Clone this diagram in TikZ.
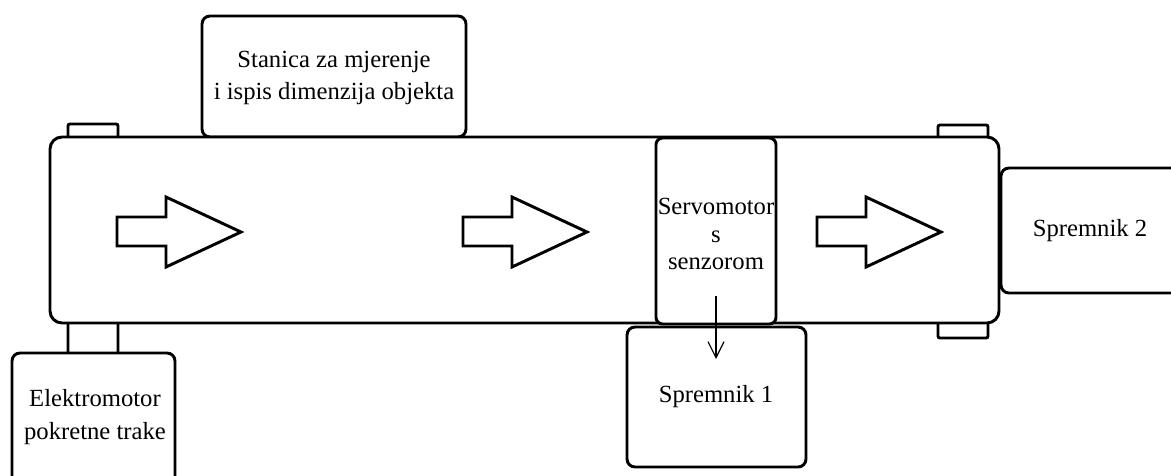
\documentclass[tikz,border=0pt]{standalone}
\usepackage{fontspec}
\setmainfont{Liberation Serif}
\usetikzlibrary{arrows.meta}
\begin{document}
\begin{tikzpicture}[x=0.75pt,y=-0.75pt,
  part/.style={draw=black, line width=2.2pt, fill=white, rounded corners=6pt},
  tab/.style={draw=black, line width=2.2pt, fill=white, rounded corners=1.5pt},
  blockarrow/.style={draw=black, line width=2.2pt, fill=white, line join=miter},
  label/.style={font=\fontsize{18.5}{24.5}\selectfont, text=black, align=center, inner sep=0pt},
  flow/.style={draw=black, line width=0.9pt, -{Straight Barb[length=12pt,width=12pt,line width=0.9pt]}}]
\useasboundingbox (0,0) rectangle (1171,475);
\clip (0,0) rectangle (1171,475);
% tabs
\draw[tab] (68,124) rectangle (118,140);
\draw[tab] (938,125) rectangle (988,140);
\draw[tab] (938,320) rectangle (988,338);
\draw[tab] (68,320) rectangle (118,354);
% measurement station
\draw[part] (202,16) rectangle (466,137);
% belt
\draw[part, rounded corners=9pt] (50,137) rectangle (999,323);
% servomotor
\draw[part, rounded corners=5pt] (656,138) rectangle (776,324);
% containers and motor
\draw[part] (627,327) rectangle (806,467);
\draw[part] (1001,168) rectangle (1190,293);
\draw[part] (12,353) rectangle (175,490);
% block arrows
\foreach \dx in {0,346,700}{
  \draw[blockarrow] (117+\dx,217) -- (166+\dx,217) -- (166+\dx,197) -- (241+\dx,232)
    -- (166+\dx,267) -- (166+\dx,246) -- (117+\dx,246) -- cycle;
}
% texts
\node[label] (stanica) at (334,78) {Stanica za mjerenje\\ i ispis dimenzija objekta};
\node[label, font=\fontsize{18.5}{20.5}\selectfont] (servo) at (716,234) {Servomotor\\s\\senzorom};
\node[label] (sp1) at (716,397) {Spremnik 1};
\node[label] (sp2) at (1090,231) {Spremnik 2};
\node[label] (motor) at (95,417) {Elektromotor\\pokretne trake};
\coordinate (a1) at (716,296);
\coordinate (a2) at (716,359);
\draw[flow] (a1) -- (a2);
\end{tikzpicture}
\end{document}
